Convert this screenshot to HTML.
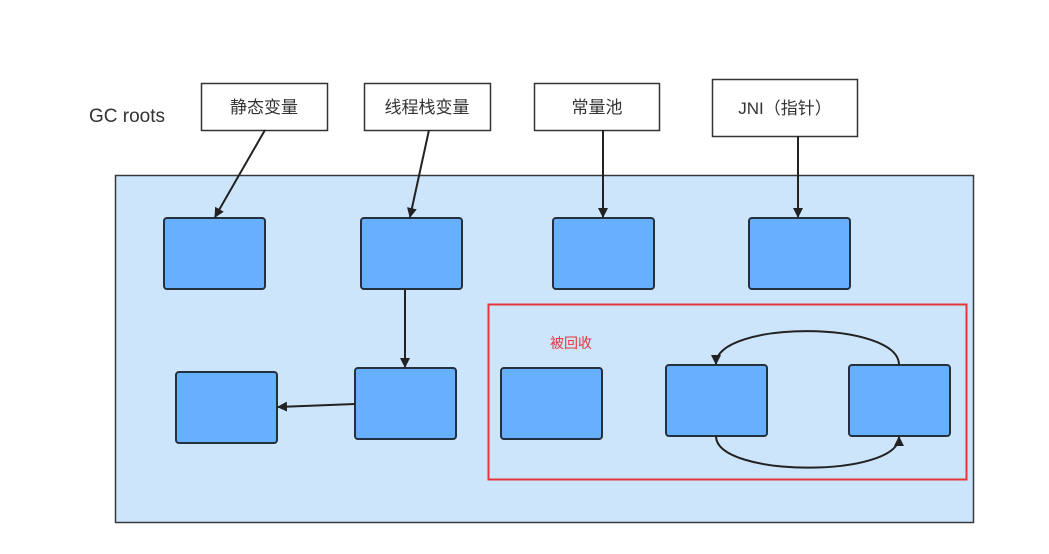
<!DOCTYPE html>
<html><head><meta charset="utf-8"><style>
html,body{margin:0;padding:0;background:#fff;}
svg{display:block;}
text{font-family:"Liberation Sans","Noto Sans CJK SC",sans-serif;}
</style></head><body>
<svg width="1049" height="554" viewBox="0 0 1049 554" xmlns="http://www.w3.org/2000/svg">
<defs>
<marker id="a" markerWidth="10" markerHeight="10" refX="9" refY="5" orient="auto" markerUnits="userSpaceOnUse">
<path d="M0,0 L10,5 L0,10 Z" fill="#222"/>
</marker>
</defs>
<rect x="115.5" y="175.5" width="858" height="347" fill="#cce5fb" stroke="#36393d" stroke-width="1.5"/>
<text x="89" y="122" font-size="19" fill="#333">GC roots</text>
<g fill="#fff" stroke="#333" stroke-width="1.5">
<rect x="201.5" y="83.5" width="126" height="47"/>
<rect x="364.5" y="83.5" width="126" height="47"/>
<rect x="534.5" y="83.5" width="125" height="47"/>
<rect x="712.5" y="79.5" width="145" height="57"/>
</g>
<g font-size="17" fill="#333" text-anchor="middle">
<text x="264" y="113">静态变量</text>
<text x="427" y="113">线程栈变量</text>
<text x="597" y="113">常量池</text>
<text x="785" y="114">JNI（指针）</text>
</g>
<g fill="#66b0ff" stroke="#23303d" stroke-width="2">
<rect x="164" y="218" width="101" height="71" rx="3"/>
<rect x="361" y="218" width="101" height="71" rx="3"/>
<rect x="553" y="218" width="101" height="71" rx="3"/>
<rect x="749" y="218" width="101" height="71" rx="3"/>
<rect x="176" y="372" width="101" height="71" rx="3"/>
<rect x="355" y="368" width="101" height="71" rx="3"/>
<rect x="501" y="368" width="101" height="71" rx="3"/>
<rect x="666" y="365" width="101" height="71" rx="3"/>
<rect x="849" y="365" width="101" height="71" rx="3"/>
</g>
<rect x="488.5" y="304.5" width="478" height="175" fill="none" stroke="#e8363c" stroke-width="2"/>
<text x="550" y="348" font-size="14" fill="#e8363c">被回收</text>
<g stroke="#222" stroke-width="2" fill="none" marker-end="url(#a)">
<line x1="265" y1="130" x2="215" y2="217"/>
<line x1="429" y1="130" x2="410" y2="217"/>
<line x1="603" y1="130" x2="603" y2="217"/>
<line x1="798" y1="136" x2="798" y2="217"/>
<line x1="405" y1="289" x2="405" y2="367"/>
<line x1="355" y1="404" x2="278" y2="407"/>
<path d="M899,365 C899,320 716,320 716,364"/>
<path d="M716,436 C716,478 899,478 899,437"/>
</g>
</svg>
</body></html>
